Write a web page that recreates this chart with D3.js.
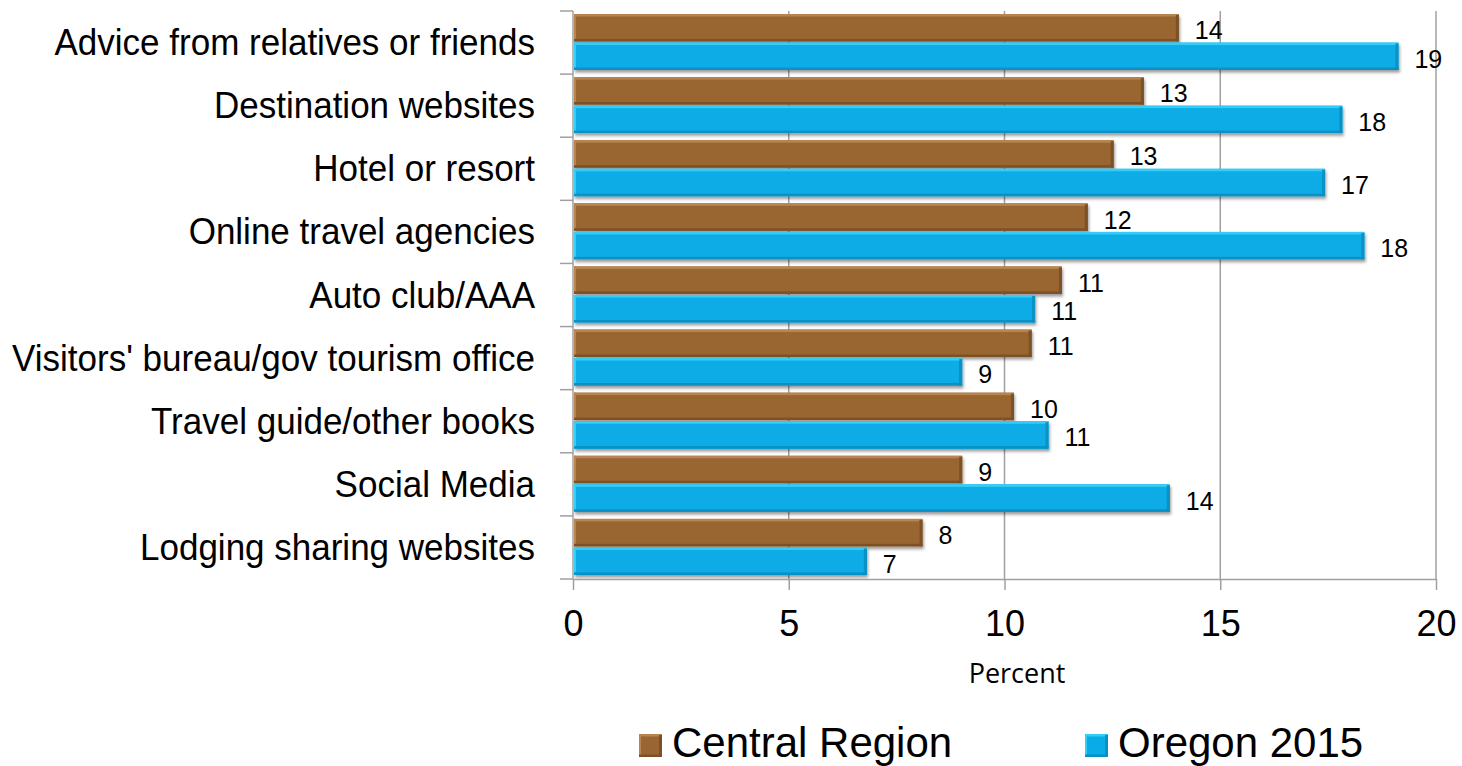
<!DOCTYPE html>
<html>
<head>
<meta charset="utf-8">
<script src="https://cdn.jsdelivr.net/npm/d3@7"></script>
<style>
  body { margin: 0; background: #fff; }
  svg { display: block; font-family: "Liberation Sans", Arial, sans-serif; }
</style>
</head>
<body>
<svg id="chart" width="1462" height="766"></svg>
<script>
// categories top to bottom
var categories = [
    "Advice from relatives or friends",
    "Destination websites",
    "Hotel or resort",
    "Online travel agencies",
    "Auto club/AAA",
    "Visitors' bureau/gov tourism office",
    "Travel guide/other books",
    "Social Media",
    "Lodging sharing websites"
];
var seriesNames = ["Central Region", "Oregon 2015"];
var centralValues = [14.04, 13.23, 12.53, 11.93, 11.33, 10.63, 10.22, 9.02, 8.10];
var oregonValues = [19.13, 17.83, 17.43, 18.34, 10.71, 9.02, 11.02, 13.83, 6.81];
var xTicks = [0, 5, 10, 15, 20];

// colors: main, light edge, dark edge
var palette = {
    "Central Region": ["#996633", "#B8844F", "#7C5128"],
    "Oregon 2015": ["#09ACE6", "#34CDF7", "#0790C4"]
};

var svg = d3.select("#chart");
// note: "top" is taken by window.top, so use plot* names
var plotLeft = 573, plotRight = 1436, plotTop = 11, plotBottom = 579;

var x = d3.scaleLinear().domain([0, 20]).range([plotLeft, plotRight]);
var y = d3.scaleBand().domain(categories).range([plotTop, plotBottom]);
var ySub = d3.scaleBand().domain(seriesNames).range([3, 59]).paddingInner(0.04);

// shadow filter
var defs = svg.append("defs");
var f = defs.append("filter").attr("id", "shadow")
    .attr("x", "-5%").attr("y", "-30%").attr("width", "110%").attr("height", "170%");
f.append("feDropShadow")
    .attr("dx", 1).attr("dy", 2.5).attr("stdDeviation", 1.6)
    .attr("flood-color", "#000").attr("flood-opacity", 0.4);

// vertical gridlines
svg.append("g")
    .selectAll("line")
    .data(xTicks.slice(1))
    .enter()
    .append("line")
    .attr("x1", function (d) { return x(d); })
    .attr("x2", function (d) { return x(d); })
    .attr("y1", plotTop)
    .attr("y2", plotBottom)
    .attr("stroke", "#a0a0a0")
    .attr("stroke-width", 1.5);

// flatten data
var rows = [];
categories.forEach(function (c, i) {
    rows.push({ cat: c, series: "Central Region", value: centralValues[i] });
    rows.push({ cat: c, series: "Oregon 2015", value: oregonValues[i] });
});

function bevelBar(g, bx, by, bw, bh, cols) {
    g.append("rect").attr("x", bx).attr("y", by).attr("width", bw).attr("height", bh)
        .attr("fill", cols[0]);
    g.append("rect").attr("x", bx).attr("y", by).attr("width", bw).attr("height", 2.5)
        .attr("fill", cols[1]);
    g.append("rect").attr("x", bx).attr("y", by).attr("width", 2).attr("height", bh)
        .attr("fill", cols[1]);
    g.append("rect").attr("x", bx).attr("y", by + bh - 2.5).attr("width", bw).attr("height", 2.5)
        .attr("fill", cols[2]);
    g.append("rect").attr("x", bx + bw - 3).attr("y", by + 1).attr("width", 3).attr("height", bh - 1)
        .attr("fill", cols[2]);
}

// bars
var barLayer = svg.append("g");
rows.forEach(function (d) {
    var g = barLayer.append("g").attr("filter", "url(#shadow)");
    var by = y(d.cat) + ySub(d.series);
    bevelBar(g, x(0) + 1, by, x(d.value) - x(0) - 1, ySub.bandwidth(), palette[d.series]);
});

// data labels
svg.append("g")
    .selectAll("text")
    .data(rows)
    .enter()
    .append("text")
    .attr("x", function (d) { return x(d.value) + 16; })
    .attr("y", function (d) { return y(d.cat) + ySub(d.series) + ySub.bandwidth() / 2 + 11.5; })
    .attr("font-family", "'Liberation Sans', Arial, sans-serif")
    .attr("font-size", "25px")
    .attr("fill", "#000")
    .text(function (d) { return d3.format(".0f")(d.value); });

// x axis
var xAxis = svg.append("g")
    .attr("transform", "translate(0," + plotBottom + ")")
    .call(d3.axisBottom(x).tickValues(xTicks).tickSize(11).tickPadding(20).tickSizeOuter(0));
xAxis.select(".domain").attr("stroke", "#a0a0a0").attr("stroke-width", 1.5);
xAxis.selectAll(".tick line").attr("stroke", "#a0a0a0").attr("stroke-width", 1.5);
xAxis.selectAll(".tick text")
    .attr("font-family", "'Liberation Sans', Arial, sans-serif")
    .attr("font-size", "36px")
    .attr("fill", "#000")
    .attr("dy", "0.71em");

// left axis line with ticks at band edges
var edges = categories.map(function (c) { return y(c); }).concat([plotBottom]);
var yAxis = svg.append("g");
yAxis.append("line")
    .attr("x1", plotLeft).attr("x2", plotLeft).attr("y1", plotTop).attr("y2", plotBottom)
    .attr("stroke", "#a0a0a0").attr("stroke-width", 1.5);
yAxis.selectAll("line.tick")
    .data(edges)
    .enter()
    .append("line")
    .attr("class", "tick")
    .attr("x1", plotLeft - 13).attr("x2", plotLeft)
    .attr("y1", function (d) { return d; })
    .attr("y2", function (d) { return d; })
    .attr("stroke", "#a0a0a0").attr("stroke-width", 1.5);

// category labels
svg.append("g")
    .selectAll("text")
    .data(categories)
    .enter()
    .append("text")
    .attr("x", 535)
    .attr("y", function (d) { return y(d) + y.bandwidth() / 2 + 12.5; })
    .attr("text-anchor", "end")
    .attr("font-size", "37px")
    .attr("fill", "#000")
    .text(function (d) { return d; })
    .each(function () {
        var w = this.getComputedTextLength();
        d3.select(this).attr("textLength", w * 0.946).attr("lengthAdjust", "spacingAndGlyphs");
    });

// axis title
svg.append("text")
    .attr("x", 1017)
    .attr("y", 683)
    .attr("text-anchor", "middle")
    .attr("font-family", "'Open Sans', sans-serif")
    .attr("font-size", "27px")
    .attr("fill", "#000")
    .text("Percent");

// legend
var legendX = [639, 1085];
var legend = svg.append("g")
    .selectAll("g")
    .data(seriesNames)
    .enter()
    .append("g")
    .attr("transform", function (d, i) { return "translate(" + legendX[i] + ",734)"; });
legend.each(function (d) {
    var g = d3.select(this).append("g");
    bevelBar(g, 0, 0, 23, 23, palette[d]);
});
legend.append("text")
    .attr("x", 33)
    .attr("y", 23)
    .attr("font-size", "42px")
    .attr("fill", "#000")
    .text(function (d) { return d; });
</script>
</body>
</html>
